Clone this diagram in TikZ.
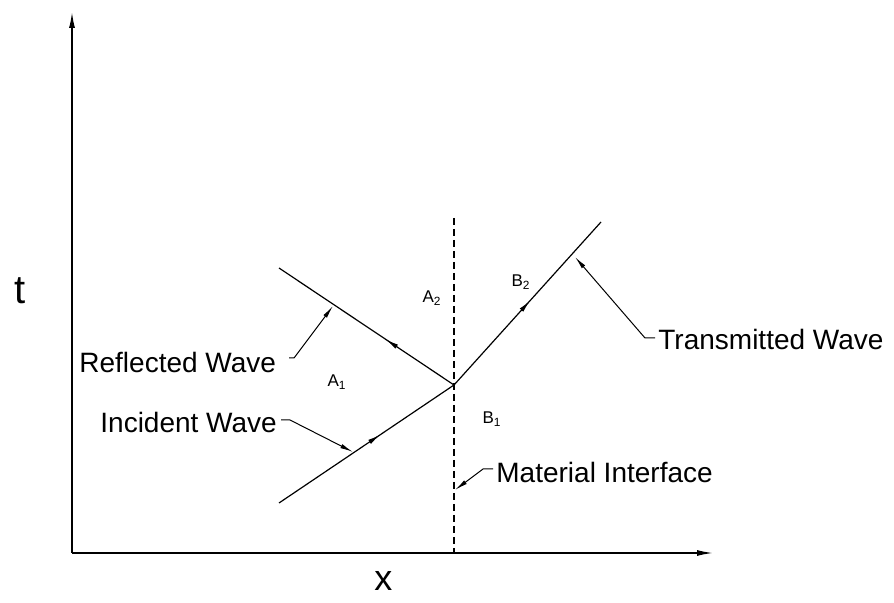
\documentclass[tikz,border=0pt]{standalone}
\usepackage{fontspec}
\setmainfont{Liberation Sans}
\usetikzlibrary{arrows.meta,decorations.markings}
\tikzset{
  wave/.style={line width=0.6pt},
  midarrow/.style={postaction={decorate},decoration={markings,mark=at position #1 with {\arrow{Latex[length=6.5pt,width=2.4pt]}}}},
  leader/.style={line width=0.5pt,-{Latex[length=6.5pt,width=2.2pt]}},
  axis/.style={line width=0.75pt,-{Latex[length=8pt,width=3pt]}},
  lbl/.style={font=\fontsize{14}{16}\selectfont,inner sep=0pt,anchor=base west},
  region/.style={font=\fontsize{8.5}{10}\selectfont,inner sep=0pt},
  iface/.style={line width=0.6pt,dash pattern=on 3.5pt off 2pt}
}
\begin{document}
\begin{tikzpicture}[x=0.5pt,y=-0.5pt]
\useasboundingbox (0,0) rectangle (894,603);
% axes
\coordinate (O) at (72,553);
\coordinate (ytop) at (72,12);
\coordinate (xend) at (713,553);
\draw[axis] (O) -- (ytop);
\draw[axis] (O) -- (xend);
\node[font=\fontsize{20}{24}\selectfont,inner sep=0pt,anchor=base west] (tlab) at (14,304) {t};
\node[font=\fontsize{18}{22}\selectfont,inner sep=0pt,anchor=base west] (xlab) at (374,590) {x};
% interface
\coordinate (itop) at (454,218);
\coordinate (ibot) at (454,553);
\draw[iface] (itop) -- (ibot);
% waves
\coordinate (P) at (454,385);
\coordinate (inc) at (279,503);
\coordinate (ref) at (279,268);
\coordinate (tra) at (601,222);
\draw[wave,midarrow=0.58] (inc) -- (P);
\draw[wave,midarrow=0.39] (P) -- (ref);
\draw[wave,midarrow=0.52] (P) -- (tra);
% region labels
\node[region] (A1) at (337,382) {A\textsubscript{1}};
\node[region] (A2) at (432,298) {A\textsubscript{2}};
\node[region] (B1) at (492,419) {B\textsubscript{1}};
\node[region] (B2) at (521,282) {B\textsubscript{2}};
% labels
\node[lbl] (rw) at (79,373) {Reflected Wave};
\node[lbl] (iw) at (100,433) {Incident Wave};
\node[lbl] (tw) at (658,350) {Transmitted Wave};
\node[lbl] (mi) at (496,483) {Material Interface};
% leaders
\coordinate (rw1) at (289,358);
\coordinate (rw2) at (294,358);
\coordinate (rwt) at (333,306);
\draw[leader] (rw1) -- (rw2) -- (rwt);
\coordinate (iw1) at (281,420);
\coordinate (iw2) at (290,420);
\coordinate (iwt) at (353,452);
\draw[leader] (iw1) -- (iw2) -- (iwt);
\coordinate (tw1) at (655,338);
\coordinate (tw2) at (645,338);
\coordinate (twt) at (575,257);
\draw[leader] (tw1) -- (tw2) -- (twt);
\coordinate (mi1) at (493,469);
\coordinate (mi2) at (483,469);
\coordinate (mit) at (455,490);
\draw[leader] (mi1) -- (mi2) -- (mit);
\end{tikzpicture}
\end{document}
